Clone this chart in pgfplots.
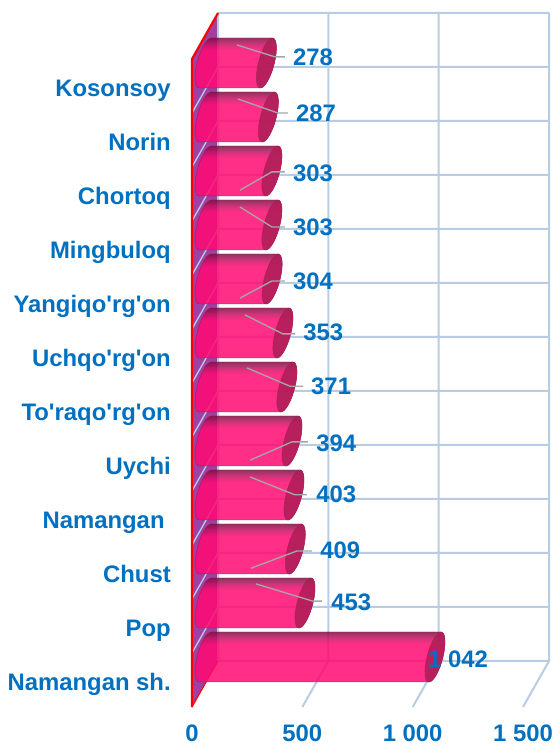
\documentclass[border=0pt]{standalone}
\usepackage{fontspec}
\setmainfont{Liberation Sans}[Ligatures=TeXOff]
\usepackage{pgfplots}
\pgfplotsset{compat=1.18}
\usepackage{pgfplotstable}
\definecolor{labblue}{HTML}{0070C0}
\definecolor{gridc}{HTML}{B8CCE4}
\definecolor{wallc}{HTML}{A23FA0}
\definecolor{leadc}{HTML}{A6A6A6}
\definecolor{capc}{HTML}{AC1E56}
\definecolor{edgec}{HTML}{8A2052}
\definecolor{pinkA}{HTML}{800E44}
\definecolor{pinkM}{HTML}{C81062}
\definecolor{pinkB}{HTML}{FF0A72}
\definecolor{pinkC}{HTML}{EC0C6C}

\pgfdeclareverticalshading{cylshade}{100bp}{
  color(0bp)=(pinkC); color(25bp)=(pinkC); color(27bp)=(pinkB);
  color(63bp)=(pinkB); color(69bp)=(pinkM); color(75bp)=(pinkA); color(100bp)=(pinkA)}

% right half of the slanted end ellipse, bottom to top
\def\capright{(-4.5pt,-18.75pt) .. controls (-1.19pt,-18.75pt) and (3.51pt,-10.36pt) .. (6pt,0pt)
  .. controls (8.49pt,10.36pt) and (7.81pt,18.75pt) .. (4.5pt,18.75pt)}
% one bar, drawn back from its end cap, length from the value
\newcommand\cyl[1]{%
  \pgfmathsetmacro\barlen{#1*0.2207*0.75}%
  \begin{scope}[opacity=.85]
    \shade[shading=cylshade,draw=edgec,line width=.3pt]
      ({(-4.5-\barlen)*1pt},-18.75pt) -- \capright
      -- ({(4.5-\barlen)*1pt},18.75pt)
      .. controls ({(1.19-\barlen)*1pt},18.75pt) and ({(-3.51-\barlen)*1pt},10.36pt) .. ({(-6-\barlen)*1pt},0pt)
      .. controls ({(-8.49-\barlen)*1pt},-10.36pt) and ({(-7.81-\barlen)*1pt},-18.75pt) .. ({(-4.5-\barlen)*1pt},-18.75pt) -- cycle;
    \fill[capc] \capright
      .. controls (1.19pt,18.75pt) and (-3.51pt,10.36pt) .. (-6pt,0pt)
      .. controls (-8.49pt,-10.36pt) and (-7.81pt,-18.75pt) .. (-4.5pt,-18.75pt) -- cycle;
  \end{scope}}

\pgfplotstableread{
v y
1042 0.5
453 1.5
409 2.5
403 3.5
394 4.5
371 5.5
353 6.5
304 7.5
303 8.5
303 9.5
287 10.5
278 11.5
}\bars

\pgfplotstableread{
x y label
1069 0.89 {1 042}
630 1.94 453
580 2.91 409
562 3.93 403
562 4.89 394
539 5.94 371
503 6.93 353
457 7.89 304
457 8.89 303
457 9.89 303
471 11.0 287
457 12.04 278
}\labs

\begin{document}
\begin{tikzpicture}
\path[use as bounding box] (-144pt,-30pt) rectangle ++(416.25pt,560.25pt);
\begin{axis}[
  at={(0,0)}, anchor=south west,
  scale only axis, width=267.8pt, height=520.5pt,
  xmin=0, xmax=1618, ymin=0, ymax=12.852,
  clip=false,
  clip mode=individual,
  unbounded coords=jump,
  axis line style={draw=none},
  tick style={draw=none},
  xtick={0,500,1000,1500},
  xticklabels={0,500,1 000,1 500},
  ytick={0.45,1.45,...,11.45},
  yticklabels={Namangan sh.,Pop,Chust,Namangan\hspace*{4.6pt},Uychi,To'raqo'rg'on,Uchqo'rg'on,Yangiqo'rg'on,Mingbuloq,Chortoq,Norin,Kosonsoy},
  ticklabel style={font=\bfseries\fontsize{17.9}{20}\selectfont,text=labblue,inner sep=0pt},
  y tick label style={anchor=base east,xshift=-15.75pt,yshift=-6pt},
  x tick label style={anchor=center,yshift=-20pt},
]
% left wall
\addplot[fill=wallc,draw=none] coordinates {(0,0)(118,.852)(118,12.852)(0,12)} -- cycle;
% back wall and floor grid
\addplot[gridc,line width=1.5pt] coordinates {
  (118,.852)(1618,.852) (nan,nan) (118,1.852)(1618,1.852) (nan,nan)
  (118,2.852)(1618,2.852) (nan,nan) (118,3.852)(1618,3.852) (nan,nan)
  (118,4.852)(1618,4.852) (nan,nan) (118,5.852)(1618,5.852) (nan,nan)
  (118,6.852)(1618,6.852) (nan,nan) (118,7.852)(1618,7.852) (nan,nan)
  (118,8.852)(1618,8.852) (nan,nan) (118,9.852)(1618,9.852) (nan,nan)
  (118,10.852)(1618,10.852) (nan,nan) (118,11.852)(1618,11.852) (nan,nan)
  (118,12.852)(1618,12.852) (nan,nan)
  (618,.852)(618,12.852) (nan,nan) (1118,.852)(1118,12.852) (nan,nan)
  (1618,.852)(1618,12.852) (nan,nan) (118,.852)(118,12.852) (nan,nan)
  (500,0)(618,.852) (nan,nan) (1000,0)(1118,.852) (nan,nan) (1500,0)(1618,.852)
};
% lines across the left wall
\addplot[gridc,line width=1pt] coordinates {
  (0,1)(118,1.852) (nan,nan) (0,2)(118,2.852) (nan,nan) (0,3)(118,3.852) (nan,nan)
  (0,4)(118,4.852) (nan,nan) (0,5)(118,5.852) (nan,nan) (0,6)(118,6.852) (nan,nan)
  (0,7)(118,7.852) (nan,nan) (0,8)(118,8.852) (nan,nan) (0,9)(118,9.852) (nan,nan)
  (0,10)(118,10.852) (nan,nan) (0,11)(118,11.852)
};
\addplot[red,line width=1.6pt] coordinates {(118,12.852)(0,12)(0,0)};
\addplot[red,line width=.8pt] coordinates {(0,0)(118,.852)};
% cylinders
\addplot[scatter,only marks,mark=*,mark size=0pt,
  visualization depends on={\thisrow{v} \as \barval},
  scatter/@pre marker code/.code={\cyl{\barval}\scope},
  scatter/@post marker code/.code={\endscope}]
  table[x expr=\thisrow{v}+59,y expr=\thisrow{y}+.426] {\bars};
% leader lines
\addplot[leadc,line width=1pt] coordinates {
  (204,12.26)(376,12.04)(421,12.04) (nan,nan)
  (208,11.26)(389,11.0)(435,11.0) (nan,nan)
  (217,9.57)(362,9.91)(421,9.91) (nan,nan)
  (217,9.26)(362,8.89)(421,8.89) (nan,nan)
  (217,7.57)(362,7.89)(421,7.89) (nan,nan)
  (240,7.26)(412,6.91)(466,6.91) (nan,nan)
  (249,6.28)(444,5.94)(503,5.94) (nan,nan)
  (263,4.57)(453,4.91)(525,4.91) (nan,nan)
  (263,4.26)(466,3.93)(521,3.93) (nan,nan)
  (267,2.57)(476,2.89)(543,2.89) (nan,nan)
  (290,2.28)(548,1.96)(589,1.96)
};
% value labels
\addplot[only marks,mark=none,
  nodes near coords,point meta=explicit symbolic,
  nodes near coords align={anchor=west},
  every node near coord/.append style={font=\bfseries\fontsize{17.9}{20}\selectfont,text=labblue,inner sep=0pt}]
  table[x=x,y=y,meta=label] {\labs};
\end{axis}
\end{tikzpicture}
\end{document}
